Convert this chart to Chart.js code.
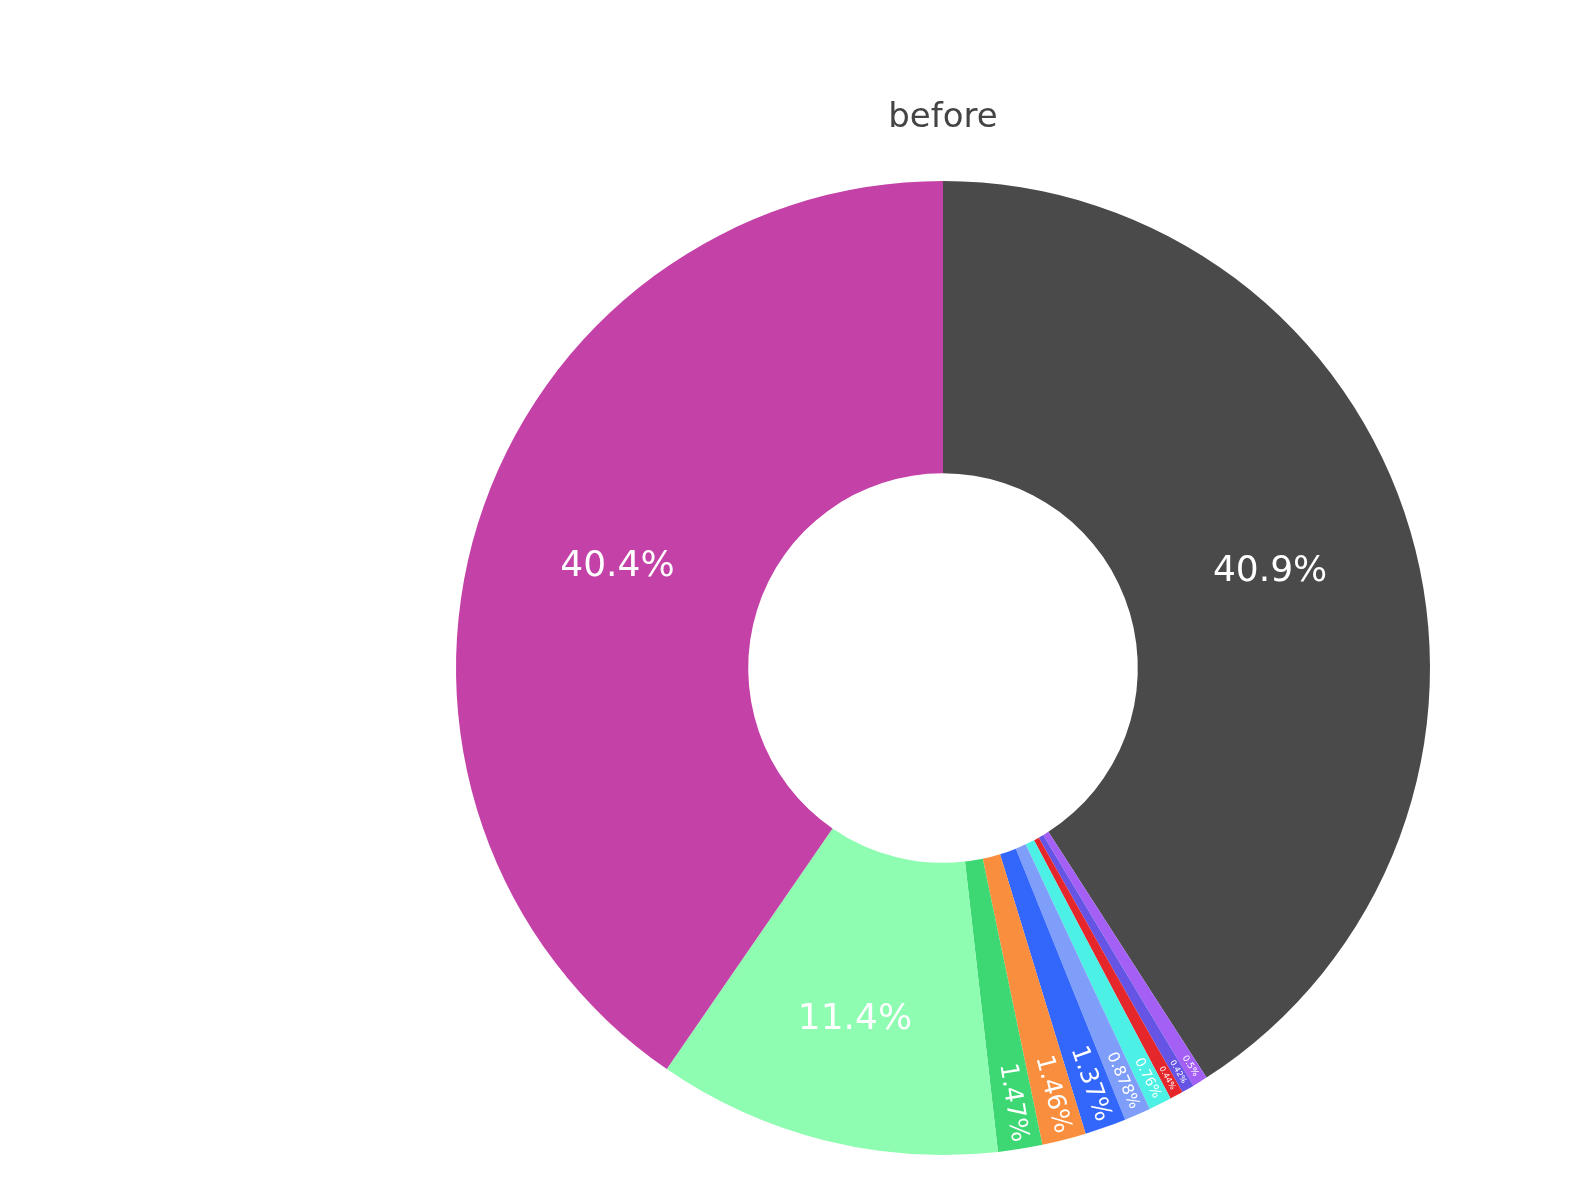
<!DOCTYPE html>
<html>
<head>
<meta charset="utf-8">
<script src="https://cdn.jsdelivr.net/npm/chart.js@4.4.1/dist/chart.umd.min.js"></script>
<style>
  html, body { margin: 0; padding: 0; background: #fff; }
  #wrap { width: 1580px; height: 1188px; }
</style>
</head>
<body>
<div id="wrap"><canvas id="pieChart" width="1580" height="1188"></canvas></div>
<script>
// Dados da rosca (sentido horário a partir do topo)
const categorias = ["s1", "s2", "s3", "s4", "s5", "s6", "s7", "s8", "s9", "s10", "s11"];
const valores = [40.9, 0.5, 0.42, 0.44, 0.76, 0.878, 1.37, 1.46, 1.47, 11.4, 40.4];
const cores = ["#4a4a4a", "#a45ff5", "#6655e5", "#e5262b", "#4cf0e4", "#7e9ef9",
               "#3366fa", "#f98e3e", "#3dd873", "#8efdb1", "#c441a7"];
const titulo = "before";

function formatarPct(v) {
  return parseFloat(v.toPrecision(3)).toString() + "%";
}

// Desenha os rótulos de porcentagem e o título
const rotulos = {
  id: "rotulos",
  afterDatasetsDraw(chart) {
    const ctx = chart.ctx;
    const meta = chart.getDatasetMeta(0);
    const total = valores.reduce((a, b) => a + b, 0);
    ctx.save();
    ctx.fillStyle = "#ffffff";
    meta.data.forEach((arc, i) => {
      const p = arc.getProps(["x", "y", "startAngle", "endAngle", "innerRadius", "outerRadius"], true);
      const pct = valores[i] / total * 100;
      const meio = (p.startAngle + p.endAngle) / 2;
      const texto = formatarPct(pct);
      if (pct > 5) {
        let r = (p.innerRadius + p.outerRadius) / 2;
        if (pct < 20) r += 22; // fatia estreita: texto mais para fora
        ctx.font = "36px 'DejaVu Sans'";
        ctx.textAlign = "center";
        ctx.textBaseline = "middle";
        ctx.fillText(texto, p.x + Math.cos(meio) * r, p.y + Math.sin(meio) * r);
      } else {
        const largura = (p.endAngle - p.startAngle) * (p.outerRadius - 55);
        const tam = Math.max(8, Math.min(25, largura * 0.66));
        const r = p.outerRadius - 7;
        ctx.save();
        ctx.translate(p.x + Math.cos(meio) * r, p.y + Math.sin(meio) * r);
        ctx.rotate(meio);
        ctx.font = tam.toFixed(1) + "px 'DejaVu Sans'";
        ctx.textAlign = "right";
        ctx.textBaseline = "middle";
        ctx.fillText(texto, 0, 0);
        ctx.restore();
      }
    });
    // título
    ctx.fillStyle = "#444444";
    ctx.font = "34px 'DejaVu Sans'";
    ctx.textAlign = "center";
    ctx.textBaseline = "middle";
    ctx.fillText(titulo, 943, 118);
    ctx.restore();
  }
};

const ctxPie = document.getElementById("pieChart").getContext("2d");
new Chart(ctxPie, {
  type: "doughnut",
  data: {
    labels: categorias,
    datasets: [{
      data: valores,
      backgroundColor: cores,
      borderWidth: 0
    }]
  },
  options: {
    responsive: false,
    animation: false,
    cutout: "40%",
    layout: { padding: { top: 181, bottom: 33, left: 456, right: 150 } },
    plugins: {
      legend: { display: false },
      tooltip: { enabled: false }
    }
  },
  plugins: [rotulos]
});
</script>
</body>
</html>
